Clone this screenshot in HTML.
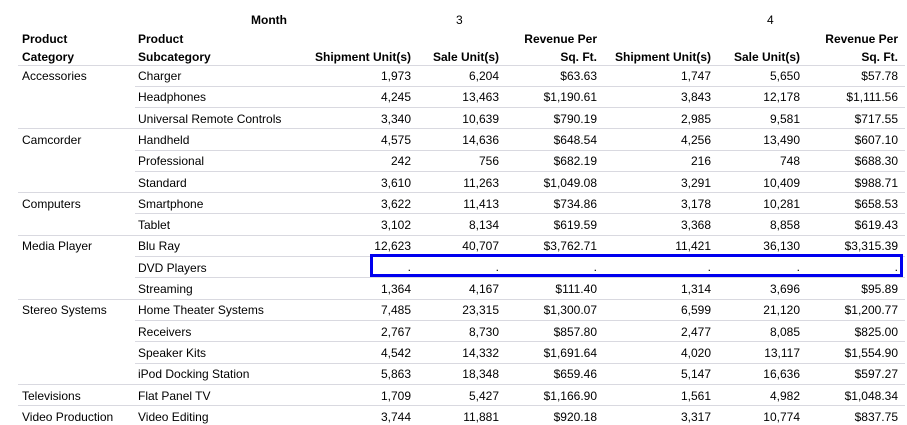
<!DOCTYPE html><html><head><style>
body{margin:0;width:907px;height:425px;background:#fff;font-family:"Liberation Sans",Arial,sans-serif;font-size:12px;color:#000;position:relative;overflow:hidden}
.t{position:absolute;white-space:nowrap;line-height:14px}
.b{font-weight:bold}
.l{position:absolute;height:1px;background:#d9d9e0;right:2px}
</style></head><body>
<script>
var c=document.body;
function T(x,y,s,cls,right){var d=document.createElement('div');d.className='t '+(cls||'');d.textContent=s;d.style.top=(y-6)+'px';if(right){d.style.right=(907-x)+'px'}else d.style.left=x+'px';c.appendChild(d);}
function L(x,y){var d=document.createElement('div');d.className='l';d.style.left=x+'px';d.style.top=y+'px';c.appendChild(d);}
T(251,19,'Month','b');T(456,19,'3');T(767,19,'4');
T(22,38,'Product','b');T(22,56,'Category','b');T(138,38,'Product','b');T(138,56,'Subcategory','b');
var rx=[411,499,597,711,800,898];
T(597,38,'Revenue Per','b',1);T(898,38,'Revenue Per','b',1);
['Shipment Unit(s)','Sale Unit(s)','Sq. Ft.','Shipment Unit(s)','Sale Unit(s)','Sq. Ft.'].forEach(function(s,i){T(rx[i],56,s,'b',1)});
L(18,65);
var rows=[
['Accessories','Charger','1,973','6,204','$63.63','1,747','5,650','$57.78'],
['','Headphones','4,245','13,463','$1,190.61','3,843','12,178','$1,111.56'],
['','Universal Remote Controls','3,340','10,639','$790.19','2,985','9,581','$717.55',1],
['Camcorder','Handheld','4,575','14,636','$648.54','4,256','13,490','$607.10'],
['','Professional','242','756','$682.19','216','748','$688.30'],
['','Standard','3,610','11,263','$1,049.08','3,291','10,409','$988.71',1],
['Computers','Smartphone','3,622','11,413','$734.86','3,178','10,281','$658.53'],
['','Tablet','3,102','8,134','$619.59','3,368','8,858','$619.43',1],
['Media Player','Blu Ray','12,623','40,707','$3,762.71','11,421','36,130','$3,315.39'],
['','DVD Players','.','.','.','.','.','.'],
['','Streaming','1,364','4,167','$111.40','1,314','3,696','$95.89',1],
['Stereo Systems','Home Theater Systems','7,485','23,315','$1,300.07','6,599','21,120','$1,200.77'],
['','Receivers','2,767','8,730','$857.80','2,477','8,085','$825.00'],
['','Speaker Kits','4,542','14,332','$1,691.64','4,020','13,117','$1,554.90'],
['','iPod Docking Station','5,863','18,348','$659.46','5,147','16,636','$597.27',1],
['Televisions','Flat Panel TV','1,709','5,427','$1,166.90','1,561','4,982','$1,048.34',1],
['Video Production','Video Editing','3,744','11,881','$920.18','3,317','10,774','$837.75',2]];
rows.forEach(function(r,i){var y=75+21.31*i;
if(r[0])T(22,y,r[0]);T(138,y,r[1]);
for(var k=0;k<6;k++)T(rx[k],y+(i==9?-1:0),r[k+2],'',1);
if(r[8]!==2)L(r[8]?18:135,Math.round(y+10.6));});
var b=document.createElement('div');b.style.cssText='position:absolute;left:370px;top:254px;width:527px;height:17px;border:3px solid #0000ee';c.appendChild(b);
</script>
</body></html>
